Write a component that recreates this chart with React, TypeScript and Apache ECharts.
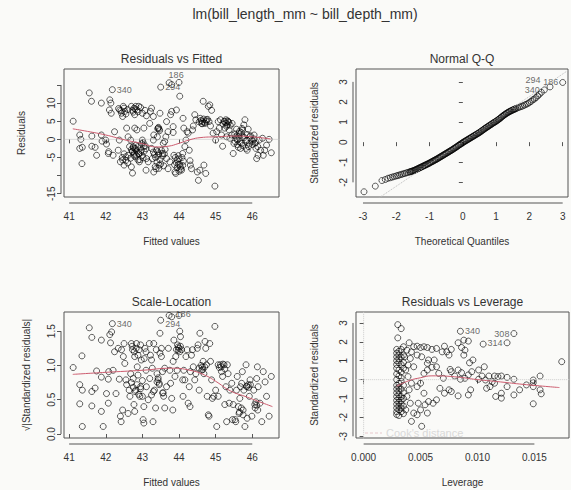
import React, { useEffect, useRef } from 'react';
import * as echarts from 'echarts';

// ---------- tick values ----------
const fittedTicks = [41, 42, 43, 44, 45, 46];
const residTicks = [15, 10, 5, 0, -5, -10, -15];
const residTickLabels = [10, 5, 0, -5, -15];
const qqXTicks = [-3, -2, -1, 0, 1, 2, 3];
const qqYTicks = [-2, -1, 0, 1, 2, 3];
const slTicks = [0, 0.5, 1, 1.5];
const levXTicks = [0, 0.005, 0.01, 0.015];
const levYTicks = [-3, -2, -1, 0, 1, 2, 3];

// ---------- Residuals vs Fitted ----------
const residFitted: number[][] = [
  [41.11, 5.0], [41.55, 12.8], [41.61, 10.5], [41.29, 1.2], [41.32, 0], [41.29, -2.5], [41.36, -2.2], [41.35, -6.7],
  [41.62, 0.9], [41.62, -1.9], [41.71, -2.2], [41.75, -4.4], [41.88, 10.0], [41.88, 1.2], [41.9, -0.5], [42.0, -0.2],
  [42.02, -1.3], [42.08, -3.4], [42.07, -3.9], [42.11, 10.9], [42.14, 10.0], [42.1, 8.1], [42.15, 7.2],
  [42.24, 2.1], [42.2, -4.4], [42.34, -3.0], [42.37, -0.2], [42.38, 8.1], [42.43, 7.2], [42.46, 6.3], [42.48, 9.1],
  [42.52, 7.7], [42.4, -6.2], [42.46, -5.7], [42.5, -7.1], [42.55, -4.8], [42.61, -4.4], [42.57, 3.1], [42.61, 0.7],
  [42.68, -0.2], [42.7, 9.1], [42.73, 8.0], [42.77, 8.6], [42.82, 9.1], [42.85, 8.1], [42.9, 9.1], [42.79, 6.8],
  [42.75, -2.0], [42.79, -2.5], [42.82, -1.6], [42.73, -3.4], [42.77, -4.4], [42.7, -7.6], [42.73, -9.3], [42.84, -4.4],
  [42.88, -5.7], [42.79, 3.1], [42.85, 2.6], [42.9, -3.9], [42.93, -5.6], [42.97, -3.0], [43.0, -0.2], [43.02, -0.9],
  [43.04, -2.0], [43.07, 8.0], [43.11, 6.5], [43.04, 3.1], [43.11, -5.3], [43.1, -8.5], [43.16, -6.2], [43.2, 4.4],
  [43.22, 7.7], [43.25, 8.6], [43.3, 6.3], [43.25, -2.5], [43.3, -0.2], [43.31, 1.2], [43.27, -5.3], [43.31, -9.0],
  [43.37, -8.1], [43.39, -3.0], [43.43, 3.1], [43.46, 2.8], [43.43, -4.4], [43.46, -7.1], [43.48, 7.2],
  [43.41, 0.7], [43.55, -3.9], [43.57, -1.1], [43.61, -0.6], [43.64, 0.7], [43.66, 4.9], [43.7, 2.1],
  [43.8, 15.1], [43.66, -5.3], [43.7, -8.1], [43.75, -6.2], [43.77, 6.8], [43.8, 7.7], [43.84, 3.5], [43.84, 1.9],
  [43.86, -4.4], [43.89, -9.0], [43.91, -9.4], [43.93, 8.1], [43.95, -5.7], [43.98, -6.9], [44.0, 15.7], [44.02, 11.9],
  [44.04, -7.6], [44.07, -8.5], [44.1, -3.9], [44.11, 5.8], [44.13, 3.1], [44.16, -2.0], [44.19, -0.2], [44.22, 2.1],
  [44.25, 1.7], [44.28, -3.0], [44.3, -5.9], [44.31, -7.1], [44.34, -8.1], [44.37, 2.6], [44.39, 3.7], [44.43, 6.8],
  [44.46, 5.4], [44.5, -9.0], [44.53, -11.3], [44.57, -8.5], [44.62, 4.4], [44.64, 4.9], [44.66, 10.5], [44.68, -7.1],
  [44.71, 4.4], [44.73, -9.4], [44.75, 5.4], [44.8, 9.1], [44.82, 4.9], [44.84, 9.5], [44.86, 3.7], [44.89, 8.0],
  [44.93, 1.7], [44.98, -12.9], [45.0, -0.2], [45.03, 2.1], [45.07, 4.9], [45.1, 3.1], [45.13, 5.4], [45.16, 1.2],
  [45.19, -1.9], [45.23, 4.9], [45.25, 3.1], [45.28, 5.4], [45.3, 0.7], [45.32, 4.0], [45.34, 4.9], [45.37, 2.6],
  [45.39, 0.3], [45.44, 1.2], [45.48, -3.9], [45.5, -1.1], [45.53, -0.6], [45.55, 0.7], [45.57, 2.8], [45.59, -0.2],
  [45.62, -2.2], [45.64, 1.7], [45.66, 0.3], [45.68, -2.5], [45.71, -1.1], [45.73, 2.6], [45.75, 0.7], [45.77, 4.0],
  [45.8, 5.4], [45.83, -2.5], [45.85, -0.2], [45.86, -3.0], [45.89, 2.8], [45.92, -1.1], [45.94, 0.7], [45.99, -0.2],
  [46.01, -0.6], [46.05, 1.2], [46.07, -1.1], [46.1, -2.5], [46.12, -5.3], [46.16, -4.4], [46.19, -0.2], [46.23, -3.0],
  [46.28, 0.3], [46.3, -4.4], [46.34, -3.0], [46.39, -1.6], [46.46, 0], [46.52, -3.7],
  [42.65, -2.0], [42.7, -2.8], [42.72, -3.3], [42.75, -2.3], [42.78, -3.8], [42.8, -4.8], [42.82, -2.6], [42.85, -3.2],
  [42.88, -2.0], [42.9, -4.0], [42.92, -6.2], [42.95, -3.6], [42.98, -1.2], [43.0, -4.5], [43.02, -5.1], [43.05, -3.3],
  [43.08, -1.8], [43.1, -2.6], [42.68, -5.2], [42.6, -6.5], [42.55, -5.8], [42.5, -4.0], [42.45, -5.0],
  [43.3, -3.5], [43.33, -4.2], [43.36, -5.0], [43.4, -6.3], [43.42, -3.4], [43.45, -4.0], [43.48, -5.6], [43.5, -6.8],
  [43.52, -3.0], [43.55, -4.6], [43.58, -7.3], [43.35, -7.5], [43.45, -8.0], [43.6, -4.0], [43.62, -2.8],
  [43.9, -5.0], [43.93, -6.5], [43.95, -7.8], [43.98, -4.5], [44.0, -5.4], [44.02, -6.9], [44.05, -8.2], [44.08, -5.0],
  [44.1, -7.2], [43.88, -7.0], [44.12, -6.0], [44.0, -8.8],
  [44.55, 4.8], [44.6, 5.2], [44.63, 4.3], [44.67, 5.6], [44.7, 4.6], [44.74, 5.0], [44.78, 5.5], [44.58, 5.8],
  [45.2, 4.2], [45.24, 5.0], [45.28, 4.5], [45.3, 3.6], [45.33, 5.1], [45.36, 4.7], [45.4, 3.9], [45.45, 4.4],
  [45.52, 1.5], [45.58, 0.2], [45.6, -1.5], [45.63, 0.9], [45.67, -0.8], [45.7, 1.9], [45.74, -1.7], [45.78, 0.5],
  [45.82, -0.5], [45.86, 1.3], [45.9, -2.0], [45.95, 1.0], [46.0, -1.4], [46.05, 0.1], [46.1, -0.8], [46.15, -2.0],
  [45.65, 2.2], [45.72, 3.0],
  [42.35, 8.5], [42.42, 7.9], [42.5, 8.6], [42.55, 7.0], [42.6, 8.2], [42.75, 7.5], [42.8, 8.4], [42.88, 7.6],
  [42.95, 8.8], [43.0, 7.2], [43.42, 2.9], [43.47, 2.4], [43.44, 3.3],
];
const residLabeled = [
  { id: '340', x: 42.18, y: 13.7, pos: 'right' as any },
  { id: '294', x: 43.5, y: 14.4, pos: 'right' as any },
  { id: '186', x: 43.73, y: 15.6, pos: [3, -9] as any },
];
const residLowess: number[][] = [
  [41.1, 2.9], [41.5, 2.2], [42, 1.2], [42.5, -0.1], [43, -1.2], [43.4, -2.1], [43.7, -1.9], [44, -1.1],
  [44.3, -0.1], [44.6, 0.5], [45, 0.7], [45.5, 0.9], [46, 0.7], [46.5, 0.1],
];

// ---------- Normal Q-Q ----------
const qqPoints: number[][] = [
  [-2.97, -2.47], [-2.63, -2.19], [-2.43, -1.91], [-2.33, -1.86], [-2.25, -1.8], [-2.18, -1.77], [-2.12, -1.74], [-2.06, -1.71],
  [-2.0, -1.68], [-1.95, -1.66], [-1.9, -1.63], [-1.85, -1.61], [-1.8, -1.58], [-1.75, -1.56], [-1.7, -1.53], [-1.65, -1.51],
  [-1.6, -1.48], [-1.55, -1.46], [-1.5, -1.43], [-1.45, -1.4], [-1.4, -1.36], [-1.35, -1.32], [-1.3, -1.28], [-1.25, -1.24],
  [-1.2, -1.2], [-1.15, -1.16], [-1.1, -1.12], [-1.05, -1.08], [-1.0, -1.04], [-0.95, -0.99], [-0.9, -0.95], [-0.85, -0.9],
  [-0.8, -0.86], [-0.75, -0.81], [-0.7, -0.76], [-0.65, -0.71], [-0.6, -0.66], [-0.55, -0.61], [-0.5, -0.56], [-0.45, -0.51],
  [-0.4, -0.46], [-0.35, -0.41], [-0.3, -0.36], [-0.25, -0.3], [-0.2, -0.25], [-0.15, -0.19], [-0.1, -0.13], [-0.05, -0.08],
  [0.0, -0.02], [0.05, 0.03], [0.1, 0.08], [0.15, 0.13], [0.2, 0.18], [0.25, 0.23], [0.3, 0.28], [0.35, 0.33],
  [0.4, 0.38], [0.45, 0.43], [0.5, 0.48], [0.55, 0.54], [0.6, 0.6], [0.65, 0.66], [0.7, 0.72], [0.75, 0.77],
  [0.8, 0.83], [0.85, 0.88], [0.9, 0.94], [0.95, 0.99], [1.0, 1.04], [1.05, 1.1], [1.1, 1.16], [1.15, 1.23],
  [1.2, 1.3], [1.25, 1.36], [1.3, 1.42], [1.35, 1.47], [1.4, 1.52], [1.45, 1.56], [1.5, 1.6], [1.55, 1.64],
  [1.6, 1.67], [1.65, 1.71], [1.7, 1.74], [1.75, 1.77], [1.8, 1.8], [1.85, 1.84], [1.9, 1.88], [1.95, 1.92],
  [2.0, 1.97], [2.05, 2.03], [2.1, 2.1], [2.15, 2.15], [2.2, 2.22], [2.25, 2.3], [2.3, 2.38], [2.36, 2.48],
  [-1.575, -1.47], [-1.525, -1.445], [-1.475, -1.415], [-1.425, -1.38], [-1.375, -1.34], [-1.325, -1.3], [-1.275, -1.26],
  [-1.225, -1.22], [-1.175, -1.18], [-1.125, -1.14], [-1.075, -1.1], [-1.025, -1.06], [-0.975, -1.015], [-0.925, -0.97],
  [-0.875, -0.925], [-0.825, -0.88], [-0.775, -0.835], [-0.725, -0.785], [-0.675, -0.735], [-0.625, -0.685], [-0.575, -0.635],
  [-0.525, -0.585], [-0.475, -0.535], [-0.425, -0.485], [-0.375, -0.435], [-0.325, -0.385], [-0.275, -0.33], [-0.225, -0.275],
  [-0.175, -0.22], [-0.125, -0.16], [-0.075, -0.105], [-0.025, -0.05], [0.025, 0.005], [0.075, 0.055], [0.125, 0.105],
  [0.175, 0.155], [0.225, 0.205], [0.275, 0.255], [0.325, 0.305], [0.375, 0.355], [0.425, 0.405], [0.475, 0.455],
  [0.525, 0.51], [0.575, 0.57], [0.625, 0.63], [0.675, 0.69], [0.725, 0.745], [0.775, 0.8], [0.825, 0.855], [0.875, 0.91],
  [0.925, 0.965], [0.975, 1.015], [1.025, 1.07], [1.075, 1.13], [1.125, 1.195], [1.175, 1.265], [1.225, 1.33], [1.275, 1.39],
  [1.325, 1.445], [1.375, 1.495], [1.425, 1.54], [1.475, 1.58], [1.525, 1.62], [1.575, 1.655],
];
const qqLabeled = [
  { id: '340', x: 2.45, y: 2.6, pos: 'left' as any },
  { id: '294', x: 2.62, y: 2.75, pos: [-21, -8] as any },
  { id: '186', x: 3.0, y: 2.97, pos: 'left' as any },
];
const qqLine: number[][] = [[-3.5, -3.87], [3.5, 3.95]];

// ---------- Scale-Location ----------
const scaleLoc: number[][] = [
  [41.11, 0.97], [41.29, 0.72], [41.36, 0.64], [41.29, 0.44], [41.36, 0.11], [41.35, 1.14], [41.55, 1.55], [41.62, 1.41],
  [41.62, 0.62], [41.71, 0.67], [41.62, 0.41], [41.75, 0.92], [41.88, 1.37], [41.88, 0.83], [41.88, 0.33], [41.93, 0.11],
  [42.02, 0.59], [42.07, 0.8], [42.08, 0.91], [42.07, 0.45], [42.11, 1.45], [42.16, 1.49], [42.13, 1.33],
  [42.2, 0.93], [42.24, 1.2], [42.28, 0.59], [42.34, 1.25], [42.37, 0.8], [42.4, 0.26], [42.42, 0.18], [42.46, 0.35],
  [42.43, 1.23], [42.48, 1.13], [42.5, 1.32], [42.52, 1.03], [42.55, 0.79], [42.57, 0.72], [42.61, 0.3], [42.64, 0.64],
  [42.66, 0.55], [42.68, 0.88], [42.7, 1.32], [42.73, 1.23], [42.75, 0.81], [42.77, 0.43], [42.79, 0.33], [42.79, 1.13],
  [42.82, 0.64], [42.84, 1.32], [42.86, 0.98], [42.88, 0.86], [42.91, 1.23], [42.93, 0.55], [42.95, 0.69], [42.97, 1.08],
  [43.0, 0.55], [43.02, 0.21], [43.04, 0.16], [43.04, 0.4], [43.07, 1.25], [43.1, 0.93], [43.11, 0.69], [43.16, 0.5],
  [43.19, 1.32], [43.2, 0.81], [43.22, 1.15], [43.25, 1.08], [43.27, 0.96], [43.29, 0.18], [43.31, 1.32], [43.33, 0.64],
  [43.36, 0.38], [43.38, 1.23], [43.4, 0.88], [43.43, 0.79], [43.46, 0.74], [43.48, 1.47], [43.52, 1.13],
  [43.55, 0.91], [43.57, 0.6], [43.61, 0.96], [43.61, 0.38], [43.66, 0.69], [43.71, 1.25], [43.8, 1.71],
  [43.75, 0.93], [43.77, 0.74], [43.8, 0.52], [43.83, 0.35], [43.84, 1.06], [43.86, 1.37], [43.89, 0.84], [43.91, 1.13],
  [43.93, 1.23], [43.95, 0.93], [43.98, 1.27], [44.0, 1.73], [44.02, 1.5], [44.04, 1.42], [44.07, 1.23], [44.1, 0.79],
  [44.11, 0.55], [44.13, 0.93], [44.16, 0.79], [44.19, 1.13], [44.22, 1.23], [44.25, 0.45], [44.28, 0.69], [44.3, 0.4],
  [44.31, 0.91], [44.34, 1.15], [44.37, 1.23], [44.39, 0.98], [44.43, 0.79], [44.46, 0.88], [44.5, 1.25], [44.52, 1.3],
  [44.55, 0.64], [44.57, 1.47], [44.62, 0.93], [44.64, 0.98], [44.66, 1.06], [44.68, 0.88], [44.71, 1.35], [44.73, 1.25],
  [44.75, 1.01], [44.77, 0.55], [44.8, 0.28], [44.82, 0.26], [44.84, 1.32], [44.86, 1.06], [44.89, 0.79], [44.91, 0.52],
  [44.95, 0.55], [44.98, 1.57], [45.0, 0.64], [45.03, 0.11], [45.07, 0.55], [45.07, 1.01], [45.1, 0.97], [45.13, 1.01],
  [45.16, 0.91], [45.19, 0.84], [45.23, 1.01], [45.25, 0.43], [45.28, 0.69], [45.3, 0.18], [45.32, 1.01], [45.34, 0.88],
  [45.37, 0.45], [45.39, 0.64], [45.44, 0.74], [45.46, 0.21], [45.48, 0.43], [45.53, 0.21], [45.55, 0.18], [45.57, 0.64],
  [45.59, 0.84], [45.62, 0.4], [45.64, 0.3], [45.66, 0.52], [45.68, 0.69], [45.71, 0.74], [45.73, 0.91], [45.75, 0.35],
  [45.77, 0.64], [45.8, 0.11], [45.83, 1.01], [45.85, 0.69], [45.86, 0.23], [45.89, 0.72], [45.92, 0.55], [45.94, 0.79],
  [45.99, 0.26], [46.04, 0.64], [46.07, 0.43], [46.1, 0.47], [46.12, 0.81], [46.14, 0.98], [46.16, 0.69], [46.21, 0.45],
  [46.26, 0.18], [46.3, 0.91], [46.35, 0.76], [46.39, 0.55], [46.46, 0.26], [46.52, 0.84],
  [42.7, 0.75], [42.75, 0.68], [42.8, 0.62], [42.85, 0.72], [42.9, 0.58], [42.95, 0.66], [43.0, 0.78], [42.72, 1.28],
  [42.78, 1.2], [42.83, 1.25], [42.88, 1.15], [42.95, 1.3], [43.05, 1.1], [43.1, 1.2], [43.4, 0.76], [43.43, 0.82],
  [43.46, 0.72], [43.48, 1.18], [43.52, 1.25], [43.98, 1.22], [44.0, 1.25], [44.02, 1.2], [44.04, 1.28], [43.96, 1.3],
  [44.55, 0.96], [44.6, 1.0], [44.65, 0.94], [44.7, 0.98], [45.15, 0.98], [45.2, 1.02], [45.25, 0.95], [45.65, 0.32],
  [45.7, 0.38], [45.75, 0.28], [46.08, 0.38], [46.12, 0.42], [46.15, 0.35], [45.85, 0.7], [45.9, 0.68], [45.95, 0.72],
  [43.55, 0.6], [43.58, 0.55], [43.25, 0.57], [43.3, 0.62],
];
const scaleLabeled = [
  { id: '340', x: 42.18, y: 1.61, pos: 'right' as any },
  { id: '294', x: 43.5, y: 1.66, pos: [8, 3] as any },
  { id: '186', x: 43.73, y: 1.73, pos: [10, -2] as any },
];
const scaleLowess: number[][] = [
  [41.1, 0.87], [42, 0.9], [43, 0.93], [43.8, 0.96], [44.3, 0.93], [44.7, 0.86], [45, 0.77], [45.4, 0.63],
  [45.8, 0.55], [46.2, 0.47], [46.55, 0.4],
];

// ---------- Residuals vs Leverage ----------
const leverage: number[][] = [
  [0.003, 2.91], [0.0033, 2.7], [0.003, 2.21], [0.004, 1.95], [0.0044, 1.74], [0.0047, 1.77], [0.005, 1.7], [0.0053, 1.74],
  [0.0056, 1.7], [0.006, 1.6], [0.0064, 1.65], [0.0069, 1.47], [0.0071, 1.77], [0.0073, 1.47], [0.0075, 1.3], [0.0077, 1.6],
  [0.0083, 1.95], [0.0088, 2.09], [0.0092, 2.04], [0.0086, 1.7], [0.0089, 1.56], [0.0088, 1.3], [0.0093, 0.89],
  [0.0096, 1.04], [0.0105, 1.88], [0.0106, 0.68], [0.0101, 0.51], [0.0095, 0.42], [0.0092, 0.25], [0.0089, 0.07],
  [0.0085, 0.02], [0.008, 0.19], [0.0077, 0.42], [0.0076, 0.54], [0.0083, 0.51], [0.0086, 0.37], [0.0101, 0.02], [0.0104, 0.19],
  [0.0107, -0.02], [0.011, 0.19], [0.0113, -0.11], [0.0115, 0.19], [0.0118, 0.16], [0.0121, 0.19], [0.0126, 0.12], [0.0132, 0.02],
  [0.0108, -0.46], [0.0111, -0.37], [0.0115, -0.19], [0.0116, -0.89], [0.0121, -0.72], [0.0121, -0.98], [0.0126, -0.37],
  [0.0132, -0.81], [0.0137, -0.54], [0.0143, -0.28], [0.0149, -0.02], [0.0149, -0.16], [0.0149, -0.37], [0.0155, 0.19],
  [0.0155, -0.54], [0.0156, -0.75], [0.0149, -1.28], [0.0174, 0.95], [0.0094, -0.54], [0.0092, -0.81], [0.0083, -0.86],
  [0.0077, -0.63], [0.0075, -0.54], [0.0071, -0.72], [0.0067, -0.46], [0.0064, -1.07], [0.0061, -1.25], [0.0057, -1.16],
  [0.0054, -1.33], [0.0053, -0.72], [0.0056, -1.77], [0.005, -1.6], [0.0051, -2.47], [0.0042, -2.21], [0.0044, -1.77],
  [0.0047, -1.86], [0.0048, -1.25], [0.0047, -0.37], [0.005, -0.19], [0.0053, 0.33], [0.0056, 0.51], [0.006, 0.65],
  [0.0064, 0.68], [0.0066, 0.33], [0.007, 0.07], [0.0062, 1.04], [0.0057, 1.04], [0.0056, 0.86], [0.0051, 1.21],
  [0.0047, 1.3], [0.0042, 1.47], [0.0041, 1.12], [0.0039, 0.77], [0.0044, 0.68], [0.0039, 0.16], [0.0042, -0.19],
  [0.004, -0.54], [0.0038, -0.89], [0.0041, -1.25], [0.0037, -1.6], [0.0037, 0.51], [0.0036, 1.21], [0.0038, 1.56],
  [0.0035, 1.74],
  [0.0029, 1.6], [0.0029, 1.4], [0.0029, 1.2], [0.0029, 1.0], [0.0029, 0.8], [0.0029, 0.6], [0.0029, 0.3], [0.0029, 0.0],
  [0.0029, -0.3], [0.0029, -0.5], [0.0029, -0.7], [0.0029, -0.9], [0.0029, -1.1], [0.0029, -1.3], [0.0029, -1.5],
  [0.0029, -1.7], [0.0029, -1.85],
  [0.0031, 1.5], [0.0031, 1.3], [0.0031, 1.1], [0.0031, 0.9], [0.0031, 0.5], [0.0031, 0.2], [0.0031, -0.2], [0.0031, -0.4],
  [0.0031, -0.6], [0.0031, -0.8], [0.0031, -1.0], [0.0031, -1.2], [0.0031, -1.4], [0.0031, -1.6], [0.0031, -1.9],
  [0.0033, 1.6], [0.0033, 1.2], [0.0033, 0.8], [0.0033, 0.4], [0.0033, 0.1], [0.0033, -0.1], [0.0033, -0.5], [0.0033, -0.9],
  [0.0033, -1.1], [0.0033, -1.3], [0.0033, -1.5], [0.0033, -1.7],
  [0.0035, 1.3], [0.0035, 0.9], [0.0035, 0.6], [0.0035, -0.3], [0.0035, -0.7], [0.0035, -1.0], [0.0035, -1.4], [0.0035, -1.8],
];
const levLabeled = [
  { id: '340', x: 0.0085, y: 2.56, pos: 'right' as any },
  { id: '314', x: 0.0126, y: 1.95, pos: 'left' as any },
  { id: '308', x: 0.0132, y: 2.44, pos: 'left' as any },
];
const levLowess: number[][] = [
  [0.0029, -0.35], [0.004, -0.05], [0.005, 0.1], [0.006, 0.2], [0.008, 0.15], [0.01, 0.0], [0.012, -0.12],
  [0.014, -0.25], [0.0172, -0.42],
];

const FONT = 'Liberation Sans, Arial, Helvetica, sans-serif';
const TXT = '#333';
const AXC = '#555';

const panels = [
  { grid: { left: 64, top: 69, width: 215, height: 128 }, x: [40.86, 46.73], y: [-15.9, 19.4],
    xTicks: fittedTicks, xLabels: fittedTicks, yTicks: residTicks, yLabels: residTickLabels,
    xFmt: (v: number) => String(v), yFmt: (v: number) => String(v), xName: 'Fitted values', yName: 'Residuals',
    yGap: 35, title: 'Residuals vs Fitted' },
  { grid: { left: 356, top: 69, width: 212, height: 128 }, x: [-3.21, 3.16], y: [-2.73, 3.64],
    xTicks: qqXTicks, xLabels: qqXTicks, yTicks: qqYTicks, yLabels: qqYTicks,
    xFmt: (v: number) => String(v), yFmt: (v: number) => String(v), xName: 'Theoretical Quantiles', yName: 'Standardized residuals',
    yGap: 34, title: 'Normal Q-Q' },
  { grid: { left: 64, top: 312, width: 215, height: 126 }, x: [40.86, 46.73], y: [-0.058, 1.78],
    xTicks: fittedTicks, xLabels: fittedTicks, yTicks: slTicks, yLabels: slTicks,
    xFmt: (v: number) => String(v), yFmt: (v: number) => v.toFixed(1), xName: 'Fitted values', yName: '√|Standardized residuals|',
    yGap: 30, title: 'Scale-Location' },
  { grid: { left: 356, top: 312, width: 213, height: 126 }, x: [-0.00067, 0.01804], y: [-3.09, 3.58],
    xTicks: levXTicks, xLabels: levXTicks, yTicks: levYTicks, yLabels: levYTicks,
    xFmt: (v: number) => v.toFixed(3), yFmt: (v: number) => String(v), xName: 'Leverage', yName: 'Standardized residuals',
    yGap: 34, title: 'Residuals vs Leverage' },
];

const X_OFF = 6;
const Y_OFF = 3;

const pointStyle = {
  symbol: 'circle',
  symbolSize: 6,
  itemStyle: { color: 'rgba(0,0,0,0)', borderColor: 'rgba(0,0,0,0.78)', borderWidth: 1 },
  silent: true,
};

function scatter(i: number, data: number[][]) {
  return { type: 'scatter', xAxisIndex: i, yAxisIndex: i, data, ...pointStyle };
}
function labeled(i: number, pts: { id: string; x: number; y: number; pos: any }[]) {
  return {
    type: 'scatter', xAxisIndex: i, yAxisIndex: i, ...pointStyle,
    data: pts.map((p) => ({
      value: [p.x, p.y],
      label: { show: true, formatter: p.id, position: p.pos, distance: 1, fontSize: 9, color: '#444', fontFamily: FONT },
    })),
  };
}
function line(i: number, data: number[][], color: string, type: string, smooth: boolean) {
  return {
    type: 'line', xAxisIndex: i, yAxisIndex: i, data, symbol: 'none', smooth, silent: true,
    lineStyle: { color, width: 1, type },
  };
}

export default function App() {
  const ref = useRef<HTMLDivElement>(null);
  useEffect(() => {
    document.body.style.margin = '0';
    const chart = echarts.init(ref.current!, null, { renderer: 'svg' });
    const option: any = {
      animation: false,
      backgroundColor: '#fafaf8',
      textStyle: { fontFamily: FONT },
      grid: panels.map((p) => ({ ...p.grid, show: true, borderColor: AXC, borderWidth: 1, backgroundColor: 'transparent', containLabel: false })),
      xAxis: panels.map((p, i) => ({
        type: 'value', gridIndex: i, min: p.x[0], max: p.x[1], offset: X_OFF,
        splitLine: { show: false }, axisLine: { show: false },
        axisTick: { show: true, length: 4, customValues: p.xTicks, lineStyle: { color: AXC } },
        axisLabel: { customValues: p.xLabels, formatter: p.xFmt, fontSize: 10, color: TXT, margin: 8, fontFamily: FONT },
        name: p.xName, nameLocation: 'middle', nameGap: 33,
        nameTextStyle: { fontSize: 10, color: TXT, fontFamily: FONT },
      })),
      yAxis: panels.map((p, i) => ({
        type: 'value', gridIndex: i, min: p.y[0], max: p.y[1], offset: Y_OFF,
        splitLine: { show: false }, axisLine: { show: false },
        axisTick: { show: true, length: 4, customValues: p.yTicks, lineStyle: { color: AXC } },
        axisLabel: { customValues: p.yLabels, formatter: p.yFmt, fontSize: 10, color: TXT, margin: 5, rotate: 90, fontFamily: FONT },
        name: p.yName, nameLocation: 'middle', nameGap: p.yGap, nameRotate: 90,
        nameTextStyle: { fontSize: 10, color: TXT, fontFamily: FONT },
      })),
      series: [
        line(0, [[40, 0], [47, 0]], '#bbbbbb', 'dotted', false),
        scatter(0, residFitted),
        labeled(0, residLabeled),
        line(0, residLowess, '#cc5b6e', 'solid', true),

        line(1, qqLine, '#bbbbbb', 'dotted', false),
        scatter(1, qqPoints),
        labeled(1, qqLabeled),

        scatter(2, scaleLoc),
        labeled(2, scaleLabeled),
        line(2, scaleLowess, '#cc5b6e', 'solid', true),

        line(3, [[-0.01, 0], [0.03, 0]], '#cccccc', 'dotted', false),
        line(3, [[0, -4], [0, 4]], '#cccccc', 'dotted', false),
        scatter(3, leverage),
        labeled(3, levLabeled),
        line(3, levLowess, '#cc5b6e', 'solid', true),
      ],
    };
    chart.setOption(option);

    const elements: any[] = [];
    elements.push({ type: 'text', silent: true, x: 305, y: 14,
      style: { text: 'lm(bill_length_mm ~ bill_depth_mm)', fontSize: 14, fill: TXT, fontFamily: FONT, align: 'center', verticalAlign: 'middle' } });
    panels.forEach((p, i) => {
      elements.push({ type: 'text', silent: true, x: p.grid.left + p.grid.width / 2, y: p.grid.top - 10,
        style: { text: p.title, fontSize: 12, fill: TXT, fontFamily: FONT, align: 'center', verticalAlign: 'middle' } });
      const a = chart.convertToPixel({ gridIndex: i }, [p.xTicks[0], p.y[0]]) as number[];
      const b = chart.convertToPixel({ gridIndex: i }, [p.xTicks[p.xTicks.length - 1], p.y[0]]) as number[];
      const yy = a[1] + X_OFF;
      elements.push({ type: 'line', silent: true, shape: { x1: a[0], y1: yy, x2: b[0], y2: yy }, style: { stroke: AXC, lineWidth: 1 } });
      const ys = p.yTicks.map((t) => (chart.convertToPixel({ gridIndex: i }, [p.x[0], t]) as number[])[1]);
      const xx = (chart.convertToPixel({ gridIndex: i }, [p.x[0], 0]) as number[])[0] - Y_OFF;
      elements.push({ type: 'line', silent: true, shape: { x1: xx, y1: Math.min(...ys), x2: xx, y2: Math.max(...ys) }, style: { stroke: AXC, lineWidth: 1 } });
    });
    // Cook's distance legend (faint)
    elements.push({ type: 'line', silent: true, shape: { x1: 365, y1: 433, x2: 382, y2: 433 }, style: { stroke: '#e8c8cc', lineWidth: 1, lineDash: [3, 2] } });
    elements.push({ type: 'text', silent: true, x: 386, y: 433, style: { text: "Cook's distance", fontSize: 11, fill: '#d9d9d9', fontFamily: FONT, verticalAlign: 'middle' } });
    chart.setOption({ graphic: { elements } });

    return () => chart.dispose();
  }, []);
  return <div ref={ref} style={{ width: 571, height: 490 }} />;
}
